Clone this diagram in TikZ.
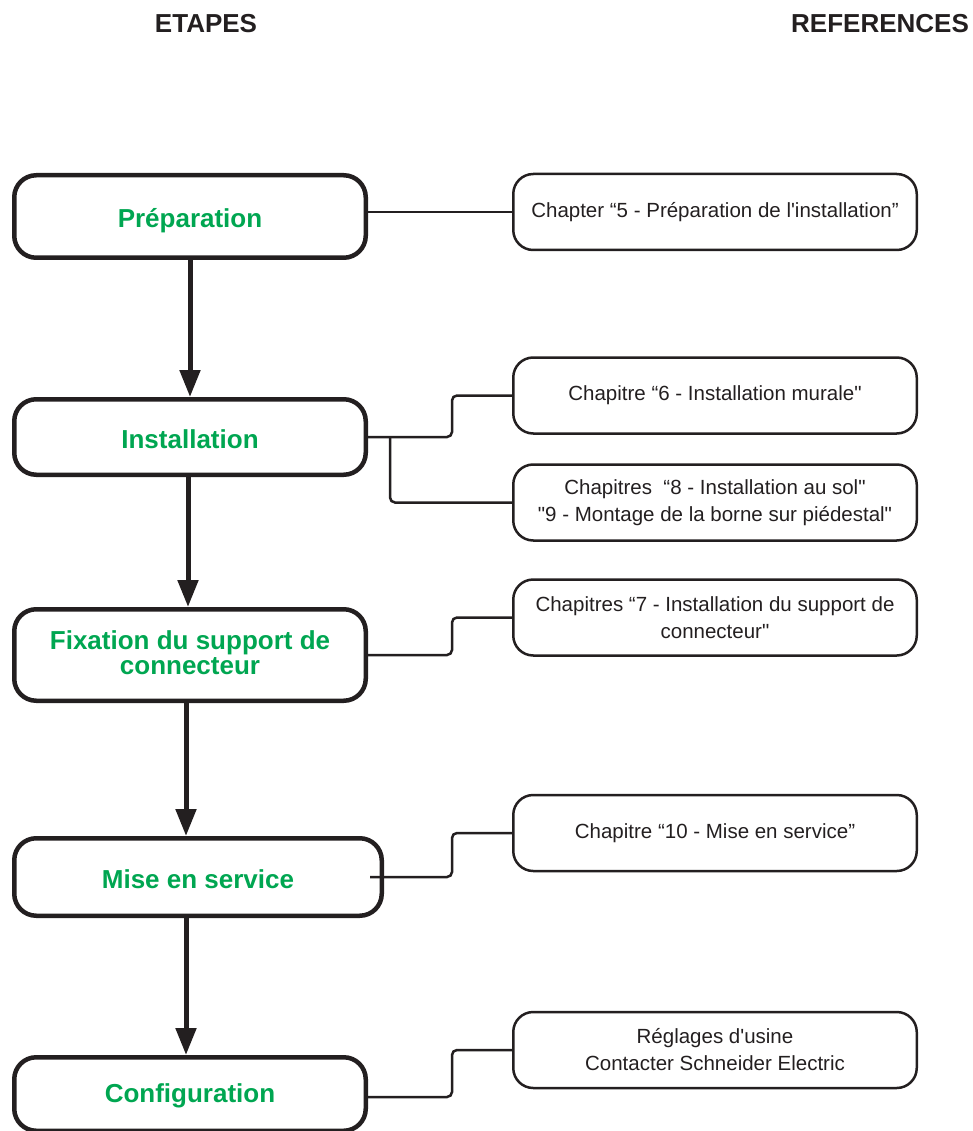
\documentclass[tikz,border=0pt]{standalone}
\usepackage{fontspec}
\setmainfont{Liberation Sans}
\usetikzlibrary{arrows.meta}
\definecolor{sgreen}{RGB}{0,166,81}
\definecolor{ink}{RGB}{35,31,32}
\newcommand{\dq}{\textquotedbl}
\newcommand{\sq}{\textquotesingle}
\newcommand{\lowr}[2]{\raisebox{-#1}[\height][\depth]{#2}}
\begin{document}
\begin{tikzpicture}[x=1pt,y=-1pt,
  stepbox/.style={draw=ink, line width=4.5pt, rounded corners=22pt,
    minimum width=351.5pt, text=sgreen,
    font=\fontsize{26}{25}\selectfont\bfseries, align=center, inner sep=0pt},
  refbox/.style={draw=ink, line width=2.5pt, rounded corners=20pt,
    minimum width=403.5pt, minimum height=76pt, text=ink,
    font=\fontsize{20.5}{27}\selectfont, align=center, inner sep=0pt},
  head/.style={text=ink, font=\fontsize{26}{28}\selectfont\bfseries, inner sep=0pt},
  conn/.style={draw=ink, line width=2.5pt, rounded corners=5pt},
  flow/.style={draw=ink, line width=5pt, -{Triangle[length=27pt,width=20pt]}}]
\useasboundingbox (0,0) rectangle (973,1131);

\node[head] (h1) at (206,24) {ETAPES};
\node[head] (h2) at (880,24) {REFERENCES};

\node[stepbox, minimum height=82.5pt] (P) at (190,216.5) {\lowr{4pt}{Préparation}};
\node[stepbox, minimum height=75.5pt] (I) at (190,437) {\lowr{2pt}{Installation}};
\node[stepbox, minimum height=91.5pt] (F) at (190,655) {\lowr{1.5pt}{\begin{tabular}{@{}c@{}}Fixation du support de\\connecteur\end{tabular}}};
\node[stepbox, minimum height=77.5pt, minimum width=367.5pt] (M) at (198,877) {\lowr{2pt}{Mise en service}};
\node[stepbox, minimum height=73.5pt] (C) at (190,1094) {\lowr{2pt}{Configuration}};

\node[refbox] (R1) at (715,212) {Chapter “5 - Préparation de l\sq installation”};
\node[refbox] (R2) at (715,395.5) {Chapitre “6 - Installation murale\dq};
\node[refbox] (R3) at (715,502.5) {Chapitres \ “8 - Installation au sol\dq\\\dq 9 - Montage de la borne sur piédestal\dq};
\node[refbox] (R4) at (715,617.5) {Chapitres “7 - Installation du support de\\connecteur\dq};
\node[refbox] (R5) at (715,833) {Chapitre “10 - Mise en service”};
\node[refbox] (R6) at (715,1050) {Réglages d\sq usine\\Contacter Schneider Electric};

\draw[flow] (P.south) -- (I.north);
\draw[flow] ([xshift=-2pt]I.south) -- ([xshift=-2pt]I.south |- F.north);
\draw[flow] ([xshift=-4pt]F.south) -- ([xshift=-4pt]F.south |- M.north);
\draw[flow] ([xshift=-4pt]F.south |- M.south) -- ([xshift=-4pt]C.north);

\draw[conn] (R1.west) -- (R1.west -| P.east);
\draw[conn] (I.east) -| ([xshift=-60pt]R2.west) -- (R2.west);
\draw[conn] ([xshift=22pt]I.east) |- (R3.west);
\draw[conn] (F.east) -| ([xshift=-60pt]R4.west) -- (R4.west);
\draw[conn] ([xshift=-14pt]M.east) -| ([xshift=-60pt]R5.west) -- (R5.west);
\draw[conn] ([yshift=-3pt]C.east) -| ([xshift=-60pt]R6.west) -- (R6.west);
\end{tikzpicture}
\end{document}
